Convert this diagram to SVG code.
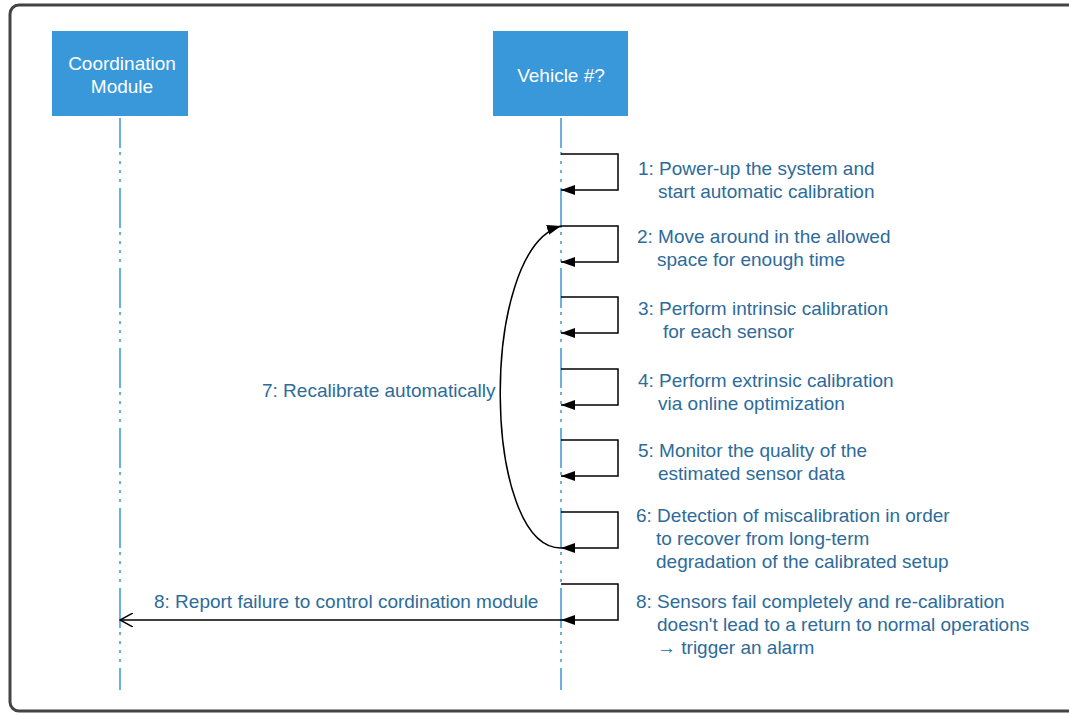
<svg xmlns="http://www.w3.org/2000/svg" width="1069" height="715" viewBox="0 0 1069 715">
<defs>
<style>
.frame{fill:#fff;stroke:#444;stroke-width:3}
.actor{fill:#3898da;stroke:none}
.atext{font-family:"Liberation Sans",Arial,sans-serif;font-size:19px;fill:#fff;text-anchor:middle}
.life{stroke:#3898da;stroke-width:1.5;fill:none;stroke-dasharray:40 4 3 6 3 6 3 6 3 6;stroke-dashoffset:10}
.msg{stroke:#000;stroke-width:1.5;fill:none}
.lbl{font-family:"Liberation Sans",Arial,sans-serif;font-size:19px;fill:#2d6b9a}
</style>
<marker id="filled" viewBox="0 0 14 10" refX="14" refY="5" markerWidth="14" markerHeight="10" markerUnits="userSpaceOnUse" orient="auto">
<path d="M0,0 L14,5 L0,10 Z" fill="#000"/>
</marker>
<marker id="open" viewBox="0 0 14 14" refX="13" refY="7" markerWidth="14" markerHeight="14" markerUnits="userSpaceOnUse" orient="auto">
<path d="M0,0 L13,7 L0,14" fill="none" stroke="#000" stroke-width="1.5"/>
</marker>
</defs>
<rect class="frame" x="10" y="5" width="1075" height="706" rx="9"/>
<g id="coordination-module">
<rect class="actor" x="52" y="31" width="136" height="85"/>
<text class="atext" x="122" y="70">Coordination</text>
<text class="atext" x="122" y="93">Module</text>
<line class="life" x1="120" y1="118" x2="120" y2="690"/>
</g>
<g id="vehicle">
<rect class="actor" x="493" y="31" width="135" height="85"/>
<text class="atext" x="561" y="82">Vehicle #?</text>
<line class="life" x1="561" y1="118" x2="561" y2="690"/>
</g>
<g id="connectors">
<path class="msg" d="M561,154 H618 V190 H561" marker-end="url(#filled)"/>
<path class="msg" d="M561,226 H618 V262 H561" marker-end="url(#filled)"/>
<path class="msg" d="M561,297 H618 V333 H561" marker-end="url(#filled)"/>
<path class="msg" d="M561,369 H618 V405 H561" marker-end="url(#filled)"/>
<path class="msg" d="M561,440 H618 V476 H561" marker-end="url(#filled)"/>
<path class="msg" d="M561,512 H618 V548 H561" marker-end="url(#filled)"/>
<path class="msg" d="M561,584 H618 V620 H561" marker-end="url(#filled)"/>
<path class="msg" d="M561,620 H120" marker-end="url(#open)"/>
<path class="msg" d="M561,548 C482,548 478,250 561,226" marker-end="url(#filled)"/>
</g>
<g id="labels">
<text class="lbl" x="638" y="175">1: Power-up the system and</text>
<text class="lbl" x="658" y="198">start automatic calibration</text>
<text class="lbl" x="637" y="243">2: Move around in the allowed</text>
<text class="lbl" x="657" y="266">space for enough time</text>
<text class="lbl" x="638" y="315">3: Perform intrinsic calibration</text>
<text class="lbl" x="663" y="338">for each sensor</text>
<text class="lbl" x="638" y="387">4: Perform extrinsic calibration</text>
<text class="lbl" x="658" y="410">via online optimization</text>
<text class="lbl" x="638" y="457">5: Monitor the quality of the</text>
<text class="lbl" x="658" y="480">estimated sensor data</text>
<text class="lbl" x="636" y="522">6: Detection of miscalibration in order</text>
<text class="lbl" x="656" y="545">to recover from long-term</text>
<text class="lbl" x="656" y="568">degradation of the calibrated setup</text>
<text class="lbl" x="636" y="608">8: Sensors fail completely and re-calibration</text>
<text class="lbl" x="657" y="631">doesn't lead to a return to normal operations</text>
<text class="lbl" x="657" y="654">→ trigger an alarm</text>
<text class="lbl" x="154" y="608">8: Report failure to control cordination module</text>
<text class="lbl" x="262" y="397">7: Recalibrate automatically</text>
</g>
</svg>
